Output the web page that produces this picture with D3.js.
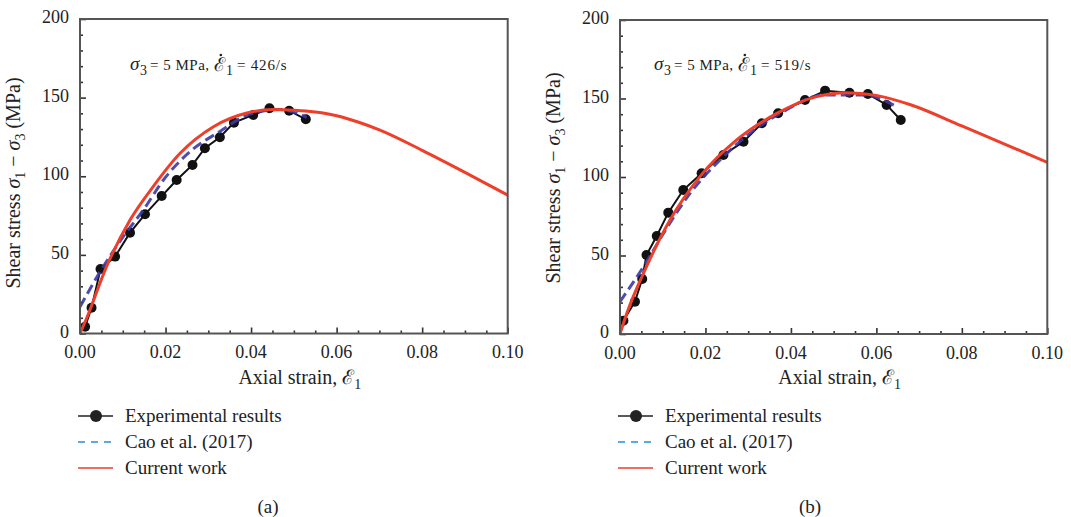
<!DOCTYPE html>
<html>
<head>
<meta charset="utf-8">
<script src="https://cdn.jsdelivr.net/npm/d3@7"></script>
<style>
  body { margin: 0; background: #fff; }
  svg { display: block; font-family: "Liberation Serif", "DejaVu Serif", serif; }
</style>
</head>
<body>
<svg width="1071" height="517"></svg>
<script>
// ---- data ----
// panel (a): sigma3 = 5 MPa, rate 426/s
const expStrainA = [0.0012, 0.0027, 0.0048, 0.0082, 0.0117, 0.0152, 0.0191, 0.0226, 0.0263, 0.0292, 0.0327, 0.0360, 0.0405, 0.0443, 0.0489, 0.0528];
const expStressA = [4.3, 16.4, 41, 48.9, 64.1, 75.8, 87.4, 97.6, 107.2, 117.8, 124.8, 134.1, 139, 143.2, 141.7, 136.2];
const caoStrainA = [0, 0.0047, 0.0101, 0.0148, 0.0195, 0.0257, 0.0327, 0.0397, 0.0468, 0.0530];
const caoStressA = [17, 39.3, 61.6, 78.5, 97.6, 115.6, 128.5, 139.5, 142.4, 137.5];
const curStrainA = [0, 0.0016, 0.0062, 0.0117, 0.0171, 0.0234, 0.0312, 0.0390, 0.0450, 0.0500, 0.0550, 0.0600, 0.0650, 0.0700, 0.0800, 0.0900, 0.1000];
const curStressA = [0, 10, 42.5, 72.2, 93.4, 114.6, 131.5, 140.2, 142.4, 142, 140.8, 138.5, 134.5, 129.5, 116.5, 102.5, 88];

// panel (b): sigma3 = 5 MPa, rate 519/s
const expStrainB = [0.0008, 0.0035, 0.0052, 0.0062, 0.0086, 0.0113, 0.0148, 0.0191, 0.0242, 0.0289, 0.0332, 0.0370, 0.0433, 0.0480, 0.0537, 0.0580, 0.0624, 0.0657];
const expStressB = [8.5, 20.6, 35, 50.3, 62.4, 77.3, 91.7, 102.4, 114, 122.5, 134.2, 140.6, 149, 155, 153.7, 152.9, 145.9, 136.3];
const caoStrainB = [0, 0.0055, 0.0109, 0.0164, 0.0234, 0.0304, 0.0382, 0.0476, 0.0569, 0.0648];
const caoStressB = [20.6, 42.9, 67.3, 89.6, 110.8, 127.8, 141.6, 152.2, 152.2, 144.8];
const curStrainB = [0, 0.0016, 0.0062, 0.0117, 0.0187, 0.0273, 0.0367, 0.0460, 0.0530, 0.0600, 0.0680, 0.0800, 0.0900, 0.1000];
const curStressB = [0, 13.2, 42.9, 72.6, 100.2, 123.6, 140.5, 151.2, 153.7, 152, 146, 132.5, 121, 109.3];

const xTicks = [0, 0.02, 0.04, 0.06, 0.08, 0.10];
const yTicks = [0, 50, 100, 150, 200];
const legendLabels = ['Experimental results', 'Cao et al. (2017)', 'Current work'];

const svg = d3.select('svg');

const red = '#ee3f2b';
const dashBlue = '#3a3aa4';
const ink = '#222';

function zip(xs, ys) { return xs.map((x, i) => [x, ys[i]]); }

function panel(opt) {
  const x = d3.scaleLinear().domain([0, 0.1]).range([opt.left, opt.right]);
  const y = d3.scaleLinear().domain([0, 200]).range([opt.bottom, opt.top]);

  const g = svg.append('g');

  const clipId = 'clip' + opt.tag;
  svg.append('clipPath').attr('id', clipId)
    .append('rect')
      .attr('x', opt.left).attr('y', opt.top)
      .attr('width', opt.right - opt.left).attr('height', opt.bottom - opt.top);

  // inward ticks on the bottom and left edges
  const xAxis = d3.axisTop(x).tickValues(d3.range(0, 0.1001, 0.005))
    .tickSize(0).tickFormat('');
  const xa = g.append('g').attr('transform', `translate(0,${opt.bottom})`).call(xAxis);
  xa.select('.domain').remove();
  xa.selectAll('.tick line')
    .attr('y2', (d) => (Math.abs(d * 50 - Math.round(d * 50)) < 1e-6 ? -6 : -3))
    .attr('stroke', '#333').attr('stroke-width', 1.6);

  const yAxis = d3.axisRight(y).tickValues(d3.range(0, 201, 10)).tickSize(0).tickFormat('');
  const ya = g.append('g').attr('transform', `translate(${opt.left},0)`).call(yAxis);
  ya.select('.domain').remove();
  ya.selectAll('.tick line')
    .attr('x2', (d) => (d % 50 === 0 ? 6 : 3))
    .attr('stroke', '#333').attr('stroke-width', 1.6);

  // tick labels
  g.selectAll('.xl').data(xTicks).join('text')
    .attr('x', (d) => x(d)).attr('y', opt.bottom + 24.5)
    .attr('text-anchor', 'middle').attr('font-size', 18).attr('fill', ink)
    .text((d) => d.toFixed(2));
  g.selectAll('.yl').data(yTicks).join('text')
    .attr('x', opt.left - 11).attr('y', (d) => y(d) + 4)
    .attr('text-anchor', 'end').attr('font-size', 18).attr('fill', ink)
    .text((d) => d);

  const plot = g.append('g').attr('clip-path', `url(#${clipId})`);

  const smooth = d3.line().x((d) => x(d[0])).y((d) => y(d[1])).curve(d3.curveMonotoneX);
  const straight = d3.line().x((d) => x(d[0])).y((d) => y(d[1]));

  const exp = zip(opt.expX, opt.expY);
  plot.append('path').attr('d', straight(exp))
    .attr('fill', 'none').attr('stroke', '#111').attr('stroke-width', 2);
  plot.selectAll('.pt').data(exp).join('circle')
    .attr('cx', (d) => x(d[0])).attr('cy', (d) => y(d[1])).attr('r', 5)
    .attr('fill', '#111');

  plot.append('path').attr('d', smooth(zip(opt.caoX, opt.caoY)))
    .attr('fill', 'none').attr('stroke', dashBlue).attr('stroke-width', 3)
    .attr('stroke-dasharray', '10,5').attr('opacity', 0.9);

  plot.append('path').attr('d', smooth(zip(opt.curX, opt.curY)))
    .attr('fill', 'none').attr('stroke', red).attr('stroke-width', 3);

  // frame
  g.append('rect')
    .attr('x', opt.left).attr('y', opt.top)
    .attr('width', opt.right - opt.left).attr('height', opt.bottom - opt.top)
    .attr('fill', 'none').attr('stroke', '#555').attr('stroke-width', 2);

  // axis titles
  const xt = g.append('text')
    .attr('x', (opt.left + opt.right) / 2 + 6).attr('y', 384)
    .attr('text-anchor', 'middle').attr('font-size', 20).attr('fill', ink);
  xt.append('tspan').text('Axial strain, ');
  xt.append('tspan').text('\u2130');
  xt.append('tspan').attr('font-size', 14).attr('dy', 5).text('1');

  const yt = g.append('text')
    .attr('transform', `translate(${opt.left - 60},${opt.ytitleY}) rotate(-90)`)
    .attr('text-anchor', 'middle').attr('font-size', 20).attr('fill', ink);
  yt.append('tspan').text('Shear stress ');
  yt.append('tspan').attr('font-style', 'italic').text('\u03c3');
  yt.append('tspan').attr('font-size', 14).attr('dy', 5).text('1');
  yt.append('tspan').attr('dy', -5).text(' \u2212 ');
  yt.append('tspan').attr('font-style', 'italic').text('\u03c3');
  yt.append('tspan').attr('font-size', 14).attr('dy', 5).text('3');
  yt.append('tspan').attr('dy', -5).text(' (MPa)');

  // annotation: sigma3 = 5 MPa, rate
  const nx = opt.noteX, ny = 70;
  const note = g.append('g').attr('fill', ink);
  note.append('text').attr('x', nx).attr('y', ny)
    .attr('font-style', 'italic').attr('font-size', 19).text('\u03c3');
  note.append('text').attr('x', nx + 10).attr('y', ny + 5)
    .attr('font-size', 14).text('3');
  note.append('text').attr('x', nx + 20).attr('y', ny)
    .attr('font-size', 15).attr('letter-spacing', 0.5).text('= 5 MPa,');
  const eps = note.append('text').attr('x', nx + 84).attr('y', ny + 1)
    .attr('font-size', 19).text('\u2130');
  const ew = eps.node().getComputedTextLength();
  note.append('circle').attr('cx', nx + 84 + ew * 0.62).attr('cy', ny - 15)
    .attr('r', 1.3);
  note.append('text').attr('x', nx + 84 + ew + 1).attr('y', ny + 5)
    .attr('font-size', 14).text('1');
  note.append('text').attr('x', nx + 107).attr('y', ny)
    .attr('font-size', 15).attr('letter-spacing', 0.8).text('= ' + opt.rate);

  // legend
  const lx = opt.left - 2;
  const rows = [416, 442, 468];
  const lg = g.append('g');
  lg.append('line').attr('x1', lx).attr('x2', lx + 35).attr('y1', rows[0]).attr('y2', rows[0])
    .attr('stroke', ink).attr('stroke-width', 1.6);
  lg.append('circle').attr('cx', lx + 18).attr('cy', rows[0]).attr('r', 6).attr('fill', ink);
  lg.append('line').attr('x1', lx).attr('x2', lx + 35).attr('y1', rows[1]).attr('y2', rows[1])
    .attr('stroke', '#2a8fce').attr('stroke-width', 1.6).attr('stroke-dasharray', '7,6');
  lg.append('line').attr('x1', lx).attr('x2', lx + 35).attr('y1', rows[2]).attr('y2', rows[2])
    .attr('stroke', red).attr('stroke-width', 1.6);
  lg.selectAll('.lt').data(legendLabels).join('text')
    .attr('x', lx + 47).attr('y', (d, i) => rows[i] + 6)
    .attr('font-size', 19).attr('fill', ink)
    .text((d) => d);

  g.append('text').attr('x', opt.capX).attr('y', 513)
    .attr('text-anchor', 'middle').attr('font-size', 19).attr('fill', ink)
    .text(opt.caption);
}

panel({
  tag: 'a', left: 80, right: 507.7, top: 19, bottom: 333.5,
  expX: expStrainA, expY: expStressA, caoX: caoStrainA, caoY: caoStressA,
  curX: curStrainA, curY: curStressA,
  rate: '426/s', noteX: 130, ytitleY: 183, capX: 268, caption: '(a)'
});

panel({
  tag: 'b', left: 620, right: 1047.3, top: 20, bottom: 334,
  expX: expStrainB, expY: expStressB, caoX: caoStrainB, caoY: caoStressB,
  curX: curStrainB, curY: curStressB,
  rate: '519/s', noteX: 654, ytitleY: 178, capX: 810, caption: '(b)'
});
</script>
</body>
</html>
